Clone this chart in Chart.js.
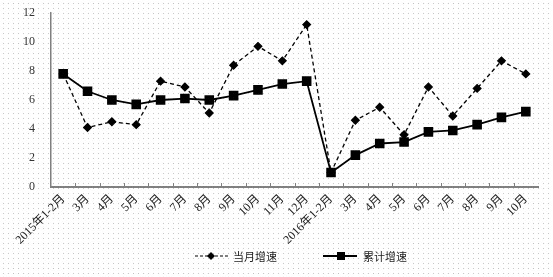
<!DOCTYPE html>
<html><head><meta charset="utf-8">
<script src="https://cdn.jsdelivr.net/npm/chart.js@4/dist/chart.umd.min.js"></script>
<style>
html,body{margin:0;padding:0;background:#fff;}
#wrap{width:553px;height:277px;background-image:radial-gradient(circle,#c8c8c8 0.7px,transparent 0.9px);background-size:5px 5px;background-position:1px 1px;}
canvas{display:block;}
</style></head>
<body><div id="wrap"><canvas id="c" width="553" height="277"></canvas></div>
<script>
const categories = ['2015年1-2月','3月','4月','5月','6月','7月','8月','9月','10月','11月','12月','2016年1-2月','3月','4月','5月','6月','7月','8月','9月','10月'];
const monthlyGrowth = [7.8,4.1,4.5,4.3,7.3,6.9,5.1,8.4,9.7,8.7,11.2,1.0,4.6,5.5,3.6,6.9,4.9,6.8,8.7,7.8];
const cumulativeGrowth = [7.8,6.6,6.0,5.7,6.0,6.1,6.0,6.3,6.7,7.1,7.3,1.0,2.2,3.0,3.1,3.8,3.9,4.3,4.8,5.2];
const seriesNames = ['当月增速','累计增速'];
const yTicks = [0,2,4,6,8,10,12];

const FONT = '"Liberation Serif","Noto Sans CJK SC",serif';

const innerTicks = {
  id:'innerTicks',
  afterDraw(chart){
    const x = chart.scales.x, ctx = chart.ctx, bottom = chart.chartArea.bottom;
    ctx.save(); ctx.strokeStyle='#808080'; ctx.lineWidth=1;
    const n = categories.length;
    for(let i=1;i<n;i++){
      const px = Math.round((x.getPixelForValue(i-1)+x.getPixelForValue(i))/2)+0.5;
      ctx.beginPath(); ctx.moveTo(px,bottom); ctx.lineTo(px,bottom-4); ctx.stroke();
    }
    ctx.restore();
  }
};

const legendPlugin = {
  id:'customLegend',
  afterDraw(chart){
    const ctx = chart.ctx; const y = 256;
    ctx.save();
    ctx.strokeStyle='#000'; ctx.fillStyle='#000';
    ctx.lineWidth=1.2; ctx.setLineDash([3,2]);
    ctx.beginPath(); ctx.moveTo(195,y); ctx.lineTo(228,y); ctx.stroke();
    ctx.setLineDash([]);
    ctx.beginPath(); ctx.moveTo(211,y-4); ctx.lineTo(215,y); ctx.lineTo(211,y+4); ctx.lineTo(207,y); ctx.closePath(); ctx.fill();
    ctx.lineWidth=1.8;
    ctx.beginPath(); ctx.moveTo(323,y); ctx.lineTo(357,y); ctx.stroke();
    ctx.fillRect(337,y-4,8,8);
    ctx.font='11px "Noto Sans CJK SC"'; ctx.fillStyle='#222'; ctx.textBaseline='middle';
    ctx.fillText(seriesNames[0],233,y+1);
    ctx.fillText(seriesNames[1],363,y+1);
    ctx.restore();
  }
};

new Chart(document.getElementById('c'),{
  type:'line',
  data:{
    labels:categories,
    datasets:[
      {label:seriesNames[0],data:monthlyGrowth,borderColor:'#000',backgroundColor:'#000',borderWidth:1.3,borderDash:[4,3],
       pointStyle:'rectRot',pointRadius:3.8,pointHoverRadius:3.8,tension:0},
      {label:seriesNames[1],data:cumulativeGrowth,borderColor:'#000',backgroundColor:'#000',borderWidth:1.8,
       pointStyle:'rect',pointRadius:5.5,pointHoverRadius:5.5,tension:0}
    ]
  },
  options:{
    responsive:false,animation:false,
    layout:{padding:{top:0,right:15,bottom:0,left:0}},
    plugins:{legend:{display:false},tooltip:{enabled:false}},
    scales:{
      x:{
        offset:true,
        grid:{display:false,drawTicks:false},
        border:{display:true,color:'#808080',width:2},
        ticks:{font:{family:FONT,size:12},color:'#222',maxRotation:45,minRotation:45,autoSkip:false,padding:5},
        afterFit(s){s.height=90;}
      },
      y:{
        min:0,max:12,
        afterBuildTicks(s){s.ticks=yTicks.map(v=>({value:v}));},
        grid:{display:false,drawTicks:false},
        border:{display:true,color:'#808080',width:1.5},
        ticks:{font:{family:FONT,size:12},color:'#333',padding:16},
        afterFit(s){s.width=51;s.paddingTop=13;s.paddingBottom=0;}
      }
    }
  },
  plugins:[innerTicks,legendPlugin]
});
</script></body></html>
